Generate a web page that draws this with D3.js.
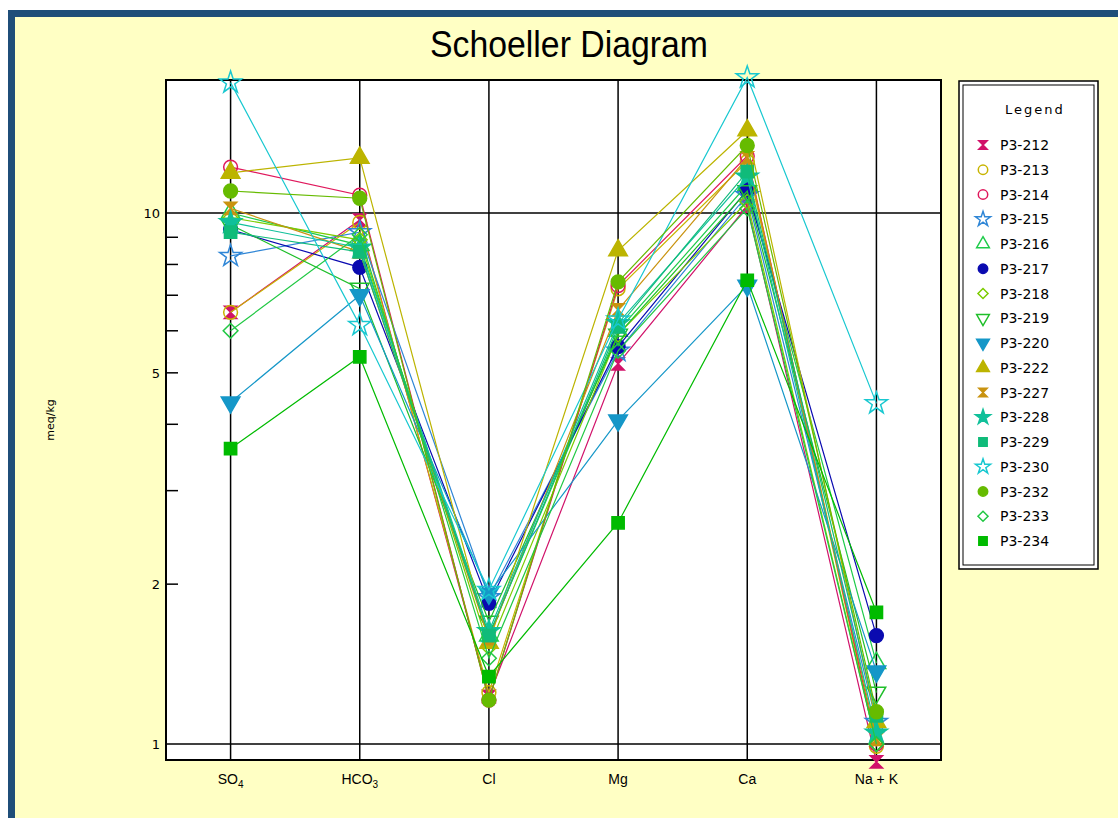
<!DOCTYPE html>
<html>
<head>
<meta charset="utf-8">
<script src="https://cdn.jsdelivr.net/npm/d3@7"></script>
<style>
    body { margin: 0; background: #fff; }
    svg { display: block; }
</style>
</head>
<body>
<svg id="chart"></svg>
<script>
// categories on the x axis (label + subscript)
const categories = ["SO4", "HCO3", "Cl", "Mg", "Ca", "Na + K"];
const categoryLabels = [["SO", "4"], ["HCO", "3"], ["Cl", ""], ["Mg", ""], ["Ca", ""], ["Na + K", ""]];

// meq/kg per sample, in category order
const p3_212 = [6.5, 9.7, 1.23, 5.2, 10.3, 0.925];
const p3_213 = [6.5, 9.6, 1.25, 7.2, 12.5, 0.99];
const p3_214 = [12.2, 10.8, 1.21, 7.3, 12.8, 1.0];
const p3_215 = [8.3, 9.2, 1.89, 5.5, 10.8, 1.1];
const p3_216 = [10.0, 8.7, 1.6, 6.0, 11.3, 1.42];
const p3_217 = [9.3, 7.9, 1.84, 5.6, 11.05, 1.6];
const p3_218 = [9.8, 8.9, 1.52, 5.9, 10.5, 1.0];
const p3_219 = [9.5, 7.2, 1.7, 5.9, 11.0, 1.25];
const p3_220 = [4.4, 7.0, 1.92, 4.07, 7.3, 1.37];
const p3_222 = [11.9, 12.7, 1.55, 8.5, 14.3, 1.1];
const p3_227 = [10.2, 8.45, 1.58, 6.57, 12.7, 1.02];
const p3_228 = [9.6, 8.6, 1.63, 6.2, 11.7, 1.05];
const p3_229 = [9.2, 8.45, 1.6, 6.1, 11.96, 1.13];
const p3_230 = [17.6, 6.15, 1.95, 6.3, 18.0, 4.38];
const p3_232 = [11.0, 10.66, 1.21, 7.42, 13.4, 1.15];
const p3_233 = [6.0, 9.1, 1.45, 5.5, 10.2, 1.0];
const p3_234 = [3.6, 5.36, 1.34, 2.61, 7.47, 1.77];

const seriesNames = ["P3-212", "P3-213", "P3-214", "P3-215", "P3-216", "P3-217", "P3-218", "P3-219",
    "P3-220", "P3-222", "P3-227", "P3-228", "P3-229", "P3-230", "P3-232", "P3-233", "P3-234"];
const seriesValues = [p3_212, p3_213, p3_214, p3_215, p3_216, p3_217, p3_218, p3_219,
    p3_220, p3_222, p3_227, p3_228, p3_229, p3_230, p3_232, p3_233, p3_234];

// y axis ticks
const yLabelTicks = [1, 2, 5, 10];
const yMinorTicks = [2, 3, 4, 5, 6, 7, 8, 9];
const yGridTicks = [1, 10];

// marker style per series: [color, shape, filled]
const styles = [
    ["#d1126a", "hourglass", true],
    ["#c8b400", "circle", false],
    ["#e0185c", "circle", false],
    ["#2f86d6", "star", false],
    ["#1ecb4a", "triangle", false],
    ["#0a0ab0", "circle", true],
    ["#7ccc00", "diamond", false],
    ["#1fbf2a", "triangleDown", false],
    ["#1597c8", "triangleDown", true],
    ["#bcb400", "triangle", true],
    ["#c99310", "hourglass", true],
    ["#10c09a", "star", true],
    ["#10bb7a", "square", true],
    ["#18c8d0", "star", false],
    ["#66bb00", "circle", true],
    ["#22c844", "diamond", false],
    ["#00bb00", "square", true]
];

const W = 1118, H = 818;
const margin = { top: 80, right: 177, bottom: 58, left: 166 };
const plotW = W - margin.left - margin.right;
const plotH = H - margin.top - margin.bottom;

const svg = d3.select("#chart").attr("width", W).attr("height", H);

// background + frame
svg.append("rect").attr("width", W).attr("height", H).attr("fill", "#fff");
svg.append("rect").attr("x", 8).attr("y", 10).attr("width", W - 8).attr("height", H - 10).attr("fill", "#1f4e79");
svg.append("rect").attr("x", 15).attr("y", 17).attr("width", W - 15).attr("height", H - 17).attr("fill", "#ffffc4");

svg.append("text")
    .attr("x", 569).attr("y", 57)
    .attr("text-anchor", "middle")
    .attr("font-family", "'Liberation Sans', Arial, sans-serif")
    .attr("font-size", 36)
    .attr("textLength", 278)
    .attr("lengthAdjust", "spacingAndGlyphs")
    .attr("fill", "#000")
    .text("Schoeller Diagram");

const g = svg.append("g").attr("transform", `translate(${margin.left},${margin.top})`);

const x = d3.scalePoint().domain(categories).range([0, plotW]).padding(0.5);
const y = d3.scaleLog().domain([0.933, 17.8]).range([plotH, 0]);

g.append("rect").attr("width", plotW).attr("height", plotH).attr("fill", "#fff");

// vertical grid at each category
g.selectAll(".vgrid").data(categories).enter().append("line")
    .attr("x1", d => x(d)).attr("x2", d => x(d))
    .attr("y1", 0).attr("y2", plotH)
    .attr("stroke", "#000").attr("stroke-width", 1.5);

// horizontal grid at decades
g.selectAll(".hgrid").data(yGridTicks).enter().append("line")
    .attr("x1", 0).attr("x2", plotW)
    .attr("y1", d => y(d)).attr("y2", d => y(d))
    .attr("stroke", "#000").attr("stroke-width", 1.5);

// minor ticks inside the left edge
g.selectAll(".minor").data(yMinorTicks).enter().append("line")
    .attr("x1", 0).attr("x2", 12)
    .attr("y1", d => y(d)).attr("y2", d => y(d))
    .attr("stroke", "#000").attr("stroke-width", 1.5);

g.append("rect").attr("width", plotW).attr("height", plotH)
    .attr("fill", "none").attr("stroke", "#000").attr("stroke-width", 2);

// y tick labels
g.selectAll(".ylab").data(yLabelTicks).enter().append("text")
    .attr("x", -6).attr("y", d => y(d) + 5)
    .attr("text-anchor", "end")
    .attr("font-family", "'DejaVu Sans', Verdana, sans-serif")
    .attr("font-size", 13)
    .text(d => d);

svg.append("text")
    .attr("transform", "translate(54,420) rotate(-90)")
    .attr("text-anchor", "middle")
    .attr("font-family", "'DejaVu Sans', Verdana, sans-serif")
    .attr("font-size", 11)
    .text("meq/kg");

// x labels with subscripts
const xl = g.selectAll(".xlab").data(categories).enter().append("text")
    .attr("x", (d, i) => x(d))
    .attr("y", plotH + 24)
    .attr("text-anchor", "middle")
    .attr("font-family", "'Liberation Sans', Arial, sans-serif")
    .attr("font-size", 14);
xl.append("tspan").text((d, i) => categoryLabels[i][0]);
xl.append("tspan").attr("dy", 4).attr("font-size", 10).text((d, i) => categoryLabels[i][1]);

// marker builder
function markerPath(shape, size) {
    const r = Math.sqrt(size) / 2;
    if (shape === "hourglass") {
        return `M${-r},${-r}L${r},${-r}L0,0L${r},${r}L${-r},${r}L0,0Z`;
    }
    if (shape === "diamond") {
        const d = r * 1.2;
        return `M0,${-d}L${d},0L0,${d}L${-d},0Z`;
    }
    const types = {
        circle: d3.symbolCircle, star: d3.symbolStar, triangle: d3.symbolTriangle,
        triangleDown: d3.symbolTriangle, square: d3.symbolSquare
    };
    return d3.symbol().type(types[shape]).size(size)();
}

function drawMarker(sel, style, size) {
    const [color, shape, filled] = style;
    sel.append("path")
        .attr("d", markerPath(shape, size))
        .attr("transform", shape === "triangleDown" ? "rotate(180)" : null)
        .attr("fill", filled ? color : "none")
        .attr("stroke", color)
        .attr("stroke-width", 1.5);
}

const line = d3.line()
    .x((d, i) => x(categories[i]))
    .y(d => y(d));

seriesValues.forEach((vals, s) => {
    const sg = g.append("g");
    sg.append("path")
        .attr("d", line(vals))
        .attr("fill", "none")
        .attr("stroke", styles[s][0])
        .attr("stroke-width", 1.2);
    sg.selectAll(".pt").data(vals).enter().append("g")
        .attr("transform", (d, i) => `translate(${x(categories[i])},${y(d)})`)
        .each(function () { drawMarker(d3.select(this), styles[s], 150); });
});

// legend
const lg = svg.append("g").attr("transform", "translate(959,81)");
lg.append("rect").attr("width", 139).attr("height", 488)
    .attr("fill", "#fff").attr("stroke", "#000").attr("stroke-width", 1.5);
lg.append("rect").attr("x", 4).attr("y", 4).attr("width", 131).attr("height", 480)
    .attr("fill", "none").attr("stroke", "#000").attr("stroke-width", 1);
lg.append("text")
    .attr("x", 76).attr("y", 33)
    .attr("text-anchor", "middle")
    .attr("font-family", "'DejaVu Sans', Verdana, sans-serif")
    .attr("font-size", 13)
    .attr("letter-spacing", 2)
    .text("Legend");

const items = lg.selectAll(".item").data(seriesNames).enter().append("g")
    .attr("transform", (d, i) => `translate(24,${64 + i * 24.75})`);
items.each(function (d, i) { drawMarker(d3.select(this), styles[i], 70); });
items.append("text")
    .attr("x", 17).attr("y", 5)
    .attr("font-family", "'DejaVu Sans', Verdana, sans-serif")
    .attr("font-size", 14)
    .text(d => d);
</script>
</body>
</html>
